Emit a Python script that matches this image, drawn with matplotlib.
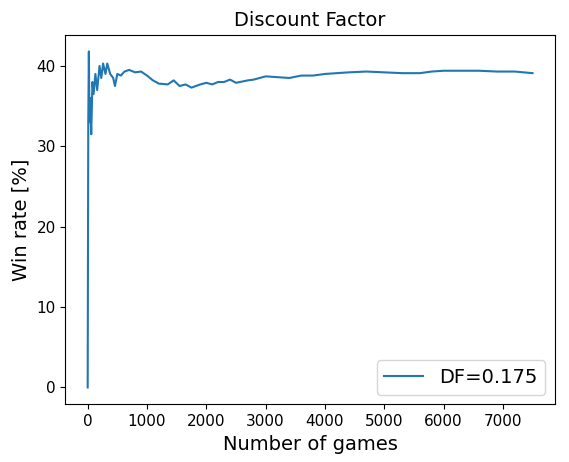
import matplotlib
matplotlib.use("Agg")
import matplotlib.pyplot as plt

games = [0, 10, 20, 30, 40, 60, 80, 100, 130, 160, 200, 230, 260, 300, 330, 380,
         430, 460, 500, 560, 620, 700, 800, 900, 1000, 1100, 1200, 1350, 1450,
         1550, 1650, 1750, 1900, 2000, 2100, 2200, 2300, 2400, 2500, 2700, 2800,
         3000, 3200, 3400, 3600, 3800, 4000, 4200, 4400, 4700, 5000, 5300, 5600,
         5800, 6000, 6300, 6600, 6900, 7200, 7500]
win_rate = [0, 33, 41.8, 33, 36, 31.5, 38, 36.5, 39, 37, 40, 38.5, 40.3, 39, 40.3, 39,
            38.5, 37.5, 39, 38.8, 39.3, 39.5, 39.2, 39.3, 38.8, 38.2, 37.8, 37.7, 38.2,
            37.5, 37.7, 37.3, 37.7, 37.9, 37.7, 38.0, 38.0, 38.3, 37.9, 38.2, 38.3,
            38.7, 38.6, 38.5, 38.8, 38.8, 39.0, 39.1, 39.2, 39.3, 39.2, 39.1, 39.1,
            39.3, 39.4, 39.4, 39.4, 39.3, 39.3, 39.1]

fig, ax = plt.subplots(figsize=(5.69, 4.62), dpi=100)
ax.plot(games, win_rate, color="#1f77b4", label="DF=0.175")
ax.set_title("Discount Factor", fontsize=14)
ax.set_xlabel("Number of games", fontsize=14)
ax.set_ylabel("Win rate [%]", fontsize=14)
ax.tick_params(labelsize=11)
ax.legend(loc="lower right", fontsize=14)
fig.subplots_adjust(left=0.115, right=0.975, top=0.925, bottom=0.125)
fig.savefig("out.png")
